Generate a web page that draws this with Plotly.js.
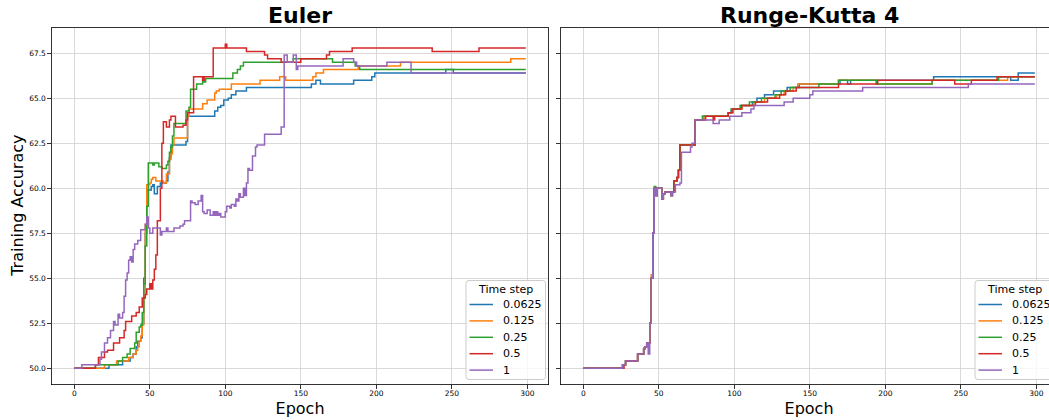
<!DOCTYPE html>
<html>
<head>
<meta charset="utf-8">
<script src="https://cdn.plot.ly/plotly-3.0.1.min.js"></script>
<style>
html, body { margin: 0; padding: 0; overflow: hidden; background: #fff; }
#chart { width: 1070px; height: 420px; }
</style>
</head>
<body>
<div id="chart"></div>
<script>
// ---------------- DATA (epoch, training accuracy) breakpoints ----------------
const timeSteps = ['0.0625', '0.125', '0.25', '0.5', '1'];
const legendTitle = 'Time step';
const panelTitles = ['Euler', 'Runge-Kutta 4'];
const xTicks = [0, 50, 100, 150, 200, 250, 300];
const yTicks = [50.0, 52.5, 55.0, 57.5, 60.0, 62.5, 65.0, 67.5];

const euler_0625 = [[0,50],[23,50.2],[32,50.4],[37,50.6],[39,50.8],[41,51.2],[42,51.5],[44,51.7],[45,52.5],[46,55.0],[47,57.5],[48,59.9],[51,60.1],[52,60.2],[53,59.7],[55,60.1],[57,60.3],[61,60.4],[62,60.9],[63,61.7],[64,62.4],[74,62.6],[75,64.0],[93,64.3],[95,64.5],[97,64.6],[99,64.9],[102,65.0],[104,65.2],[107,65.4],[114,65.6],[157,65.8],[160,66.0],[163,65.8],[185,66.0],[197,66.2],[199,66.4],[246,66.6],[251,66.4],[299,66.4]];
const euler_125 = [[0,50],[20,50.2],[28,50.4],[36,50.6],[39,50.8],[41,51.0],[42,51.2],[43,51.5],[44,51.8],[45,52.4],[46,54.0],[47,58.0],[48,60.2],[50,60.3],[51,60.5],[52,60.6],[54,60.4],[59,60.3],[61,60.8],[63,61.6],[64,61.9],[65,62.4],[66,62.8],[75,64.0],[76,64.4],[85,64.7],[88,64.9],[93,65.3],[94,65.4],[96,65.5],[104,65.8],[123,66.0],[136,66.2],[140,66.0],[158,66.2],[160,66.4],[165,66.6],[188,66.8],[216,67.0],[289,67.2],[299,67.2]];
const euler_25 = [[0,50],[14,50.2],[29,50.4],[32,50.6],[35,50.8],[37,51.1],[40,51.4],[41,52.0],[43,52.3],[44,52.4],[45,53.1],[46,54.7],[47,56.8],[48,59.0],[49,61.4],[52,61.3],[53,61.4],[56,61.2],[58,61.1],[61,61.3],[62,61.5],[63,62.0],[64,62.3],[65,62.9],[66,63.6],[74,64.3],[76,64.5],[77,65.5],[81,65.8],[85,66.1],[86,65.9],[87,66.1],[105,66.4],[108,66.6],[110,66.8],[112,67.0],[145,67.2],[171,67.0],[186,66.8],[189,66.6],[299,66.6]];
const euler_5 = [[0,50],[14,50.2],[16,50.6],[20,50.9],[22,51.0],[26,51.4],[30,51.7],[33,52.1],[34,52.6],[38,52.9],[41,53.1],[43,53.4],[45,53.9],[47,54.1],[48,54.4],[50,54.7],[51,54.4],[52,54.9],[53,55.5],[54,56.3],[55,58.2],[57,60.0],[58,62.5],[59,63.7],[61,63.4],[63,63.8],[64,64.0],[67,63.4],[72,63.5],[74,63.8],[75,64.2],[79,66.2],[85,66.0],[86,66.2],[92,67.8],[100,68.0],[101,67.8],[114,67.6],[126,67.4],[128,67.2],[137,67.0],[150,67.2],[167,67.4],[169,67.6],[184,67.8],[237,67.6],[268,67.8],[299,67.8]];
const euler_1 = [[0,50],[5,50.2],[17,50.5],[18,50.9],[20,51.4],[22,51.7],[24,52.1],[26,52.6],[27,52.4],[29,53.0],[30,52.8],[32,53.1],[33,54.0],[34,54.9],[35,55.3],[36,56.0],[37,56.2],[38,55.9],[39,56.6],[40,56.9],[42,57.1],[44,57.7],[47,58.0],[48,58.4],[49,57.8],[50,57.5],[52,57.8],[57,57.4],[58,57.6],[61,57.8],[62,57.6],[66,57.8],[70,57.9],[72,58.0],[73,58.2],[77,59.3],[78,59.2],[80,59.1],[82,59.3],[84,59.6],[85,58.7],[86,58.6],[88,58.8],[90,58.5],[92,58.7],[93,58.5],[94,58.7],[95,58.5],[96,58.6],[97,58.4],[100,58.7],[101,59.0],[103,58.9],[104,59.1],[106,59.0],[107,59.4],[108,59.3],[109,59.7],[110,59.5],[112,60.0],[113,59.6],[114,60.3],[115,61.1],[116,61.0],[118,61.8],[120,62.3],[121,62.4],[126,63.0],[137,63.4],[139,67.4],[141,67.0],[145,67.4],[147,66.6],[148,66.8],[178,67.2],[185,67.0],[187,66.8],[207,67.0],[223,66.4],[299,66.4]];

const rk4_0625 = [[0,50],[26,50.2],[28,50.4],[36,50.8],[40,51.1],[41,51.2],[42,51.4],[44,52.5],[45,55.0],[46,57.5],[47,60.0],[48,59.6],[49,60.0],[52,59.4],[53,59.7],[54,59.8],[58,59.6],[59,59.8],[60,60.4],[62,60.6],[63,61.0],[64,62.4],[74,63.8],[79,64.0],[96,64.2],[98,64.4],[104,64.6],[112,64.8],[115,65.0],[120,65.2],[126,65.4],[135,65.6],[143,65.8],[170,66.0],[175,65.8],[177,66.0],[232,66.2],[283,66.0],[288,66.4],[299,66.4]];
const rk4_125 = [[0,50],[26,50.2],[28,50.4],[36,50.8],[40,51.1],[41,51.2],[42,51.4],[44,52.5],[45,55.2],[46,57.5],[47,60.0],[48,59.6],[49,60.0],[52,59.4],[53,59.7],[54,59.8],[58,59.6],[59,59.8],[60,60.4],[62,60.6],[63,61.0],[64,62.4],[74,63.8],[80,64.0],[96,64.2],[99,64.4],[105,64.6],[113,64.8],[120,65.0],[128,65.2],[133,65.4],[139,65.6],[142,65.8],[169,66.0],[194,65.8],[231,66.0],[281,66.2],[299,66.2]];
const rk4_25 = [[0,50],[26,50.2],[28,50.4],[36,50.8],[40,51.1],[41,51.2],[42,51.4],[44,52.5],[45,55.0],[46,57.5],[47,60.1],[48,59.6],[49,60.0],[52,59.4],[53,59.7],[54,59.8],[58,59.6],[59,59.8],[60,60.4],[62,60.6],[63,61.0],[64,62.4],[74,63.8],[79,64.0],[96,64.2],[98,64.4],[104,64.6],[110,64.8],[118,65.0],[127,65.2],[131,65.4],[137,65.6],[156,65.8],[169,66.0],[194,65.8],[231,66.0],[275,66.2],[299,66.2]];
const rk4_5 = [[0,50],[27,50.2],[28,50.4],[36,50.8],[40,51.1],[41,51.2],[42,51.4],[44,52.5],[45,55.0],[46,57.5],[47,60.0],[48,59.6],[49,60.0],[52,59.4],[53,59.7],[54,59.8],[58,59.6],[59,59.8],[60,60.4],[62,60.6],[63,61.0],[64,62.4],[74,63.8],[81,64.0],[86,63.8],[87,64.0],[96,64.2],[99,64.4],[105,64.6],[114,64.8],[122,65.0],[130,65.2],[134,65.4],[141,65.6],[169,65.8],[195,66.0],[246,65.8],[257,66.0],[274,66.2],[299,66.2]];
const rk4_1 = [[0,50],[26,50.2],[28,50.4],[36,50.8],[40,51.1],[41,51.2],[42,51.4],[43,50.8],[44,52.5],[45,55.0],[46,57.5],[47,60.0],[48,59.6],[49,60.0],[52,59.4],[53,59.7],[54,59.8],[58,59.6],[59,59.8],[61,60.2],[64,60.3],[65,62.0],[71,62.3],[72,62.5],[74,63.8],[86,63.6],[90,63.8],[97,64.0],[105,64.2],[111,64.4],[113,64.6],[133,64.8],[139,65.0],[150,65.2],[152,65.4],[185,65.6],[255,65.8],[299,65.8]];

// ---------------- STYLE / LAYOUT ----------------
const colors = ['#1f77b4', '#ff7f0e', '#2ca02c', '#d62728', '#9467bd'];
const FONT = 'DejaVu Sans, Liberation Sans, sans-serif';
const W = 1070, H = 420;
const fx = p => p / W;           // pixel -> paper x
const fy = p => 1 - p / H;       // pixel -> paper y (from top)

const panels = [
  { series: [euler_0625, euler_125, euler_25, euler_5, euler_1], xa: 'x', ya: 'y', dx: 0 },
  { series: [rk4_0625, rk4_125, rk4_25, rk4_5, rk4_1], xa: 'x2', ya: 'y2', dx: 509 }
];

const traces = [];
panels.forEach(p => {
  p.series.forEach((s, i) => {
    traces.push({
      type: 'scatter', mode: 'lines',
      x: s.map(d => d[0]), y: s.map(d => d[1]),
      name: timeSteps[i],
      xaxis: p.xa, yaxis: p.ya, showlegend: false,
      line: { color: colors[i], width: 1.5, shape: 'hv' },
      hoverinfo: 'skip'
    });
  });
});

const xDom1 = [fx(51.7), fx(548.4)];
const xDom2 = [fx(560.7), fx(1057.4)];
const yDom = [fy(384.5), fy(28.1)];

const axisCommon = {
  showline: true, mirror: true, linecolor: '#000', linewidth: 0.8,
  ticks: 'outside', ticklen: 3.5, tickwidth: 0.8, tickcolor: '#000',
  showgrid: true, gridcolor: '#cfcfcf', gridwidth: 0.8, zeroline: false,
  tickfont: { family: FONT, size: 7.5, color: '#000' }
};
const xCommon = Object.assign({}, axisCommon, {
  range: [-14.95, 313.95], tickmode: 'array', tickvals: xTicks,
  ticktext: xTicks.map(String), ticklabelstandoff: -2,
  title: { text: 'Epoch', font: { family: FONT, size: 16, color: '#000' }, standoff: 5 }
});

// ---- legends drawn in paper space (matplotlib-style boxes) ----
const shapes = [];
const annotations = [];
function roundedRect(x0, y0, x1, y1, r) {
  const X = v => fx(v), Y = v => fy(v);
  return 'M' + X(x0 + r) + ',' + Y(y0) +
    ' L' + X(x1 - r) + ',' + Y(y0) + ' Q' + X(x1) + ',' + Y(y0) + ' ' + X(x1) + ',' + Y(y0 + r) +
    ' L' + X(x1) + ',' + Y(y1 - r) + ' Q' + X(x1) + ',' + Y(y1) + ' ' + X(x1 - r) + ',' + Y(y1) +
    ' L' + X(x0 + r) + ',' + Y(y1) + ' Q' + X(x0) + ',' + Y(y1) + ' ' + X(x0) + ',' + Y(y1 - r) +
    ' L' + X(x0) + ',' + Y(y0 + r) + ' Q' + X(x0) + ',' + Y(y0) + ' ' + X(x0 + r) + ',' + Y(y0) + ' Z';
}
panels.forEach(p => {
  const bx0 = 466 + p.dx, bx1 = 545.5 + p.dx, by0 = 280.5, by1 = 379.5;
  shapes.push({ type: 'path', xref: 'paper', yref: 'paper', path: roundedRect(bx0, by0, bx1, by1, 3),
    fillcolor: 'rgba(255,255,255,0.8)', line: { color: '#cccccc', width: 1 }, layer: 'above' });
  annotations.push({ text: legendTitle, xref: 'paper', yref: 'paper', x: fx((bx0 + bx1) / 2), y: fy(289),
    xanchor: 'center', yanchor: 'middle', showarrow: false, font: { family: FONT, size: 11, color: '#000' } });
  timeSteps.forEach((ts, i) => {
    const yy = 304.5 + i * 16.4;
    shapes.push({ type: 'line', xref: 'paper', yref: 'paper', x0: fx(469.5 + p.dx), x1: fx(493 + p.dx),
      y0: fy(yy), y1: fy(yy), line: { color: colors[i], width: 1.5 }, layer: 'above' });
    annotations.push({ text: ts, xref: 'paper', yref: 'paper', x: fx(501 + p.dx), y: fy(yy),
      xanchor: 'left', yanchor: 'middle', showarrow: false, font: { family: FONT, size: 11, color: '#000' } });
  });
});

// panel titles and y label
annotations.push(
  { text: panelTitles[0], xref: 'paper', yref: 'paper', x: (xDom1[0] + xDom1[1]) / 2, y: fy(16),
    xanchor: 'center', yanchor: 'middle', showarrow: false,
    font: { family: FONT, size: 22, color: '#000', weight: 'bold' } },
  { text: panelTitles[1], xref: 'paper', yref: 'paper', x: (xDom2[0] + xDom2[1]) / 2, y: fy(16),
    xanchor: 'center', yanchor: 'middle', showarrow: false,
    font: { family: FONT, size: 22, color: '#000', weight: 'bold' } },
  { text: 'Training Accuracy', xref: 'paper', yref: 'paper', x: fx(17.5), y: (yDom[0] + yDom[1]) / 2,
    xanchor: 'center', yanchor: 'middle', textangle: -90, showarrow: false,
    font: { family: FONT, size: 16, color: '#000' } }
);

const layout = {
  width: W, height: H,
  margin: { l: 0, r: 0, t: 0, b: 0, pad: 0 },
  paper_bgcolor: '#fff', plot_bgcolor: '#fff',
  font: { family: FONT, color: '#000' },
  showlegend: false,
  xaxis: Object.assign({}, xCommon, { domain: xDom1, anchor: 'y' }),
  xaxis2: Object.assign({}, xCommon, { domain: xDom2, anchor: 'y2' }),
  yaxis: Object.assign({}, axisCommon, {
    domain: yDom, anchor: 'x', range: [49.1, 68.9], tickmode: 'array', tickvals: yTicks,
    ticktext: yTicks.map(v => v.toFixed(1))
  }),
  yaxis2: Object.assign({}, axisCommon, {
    domain: yDom, anchor: 'x2', matches: 'y', range: [49.1, 68.9], tickmode: 'array', tickvals: yTicks,
    showticklabels: false
  }),
  shapes: shapes,
  annotations: annotations
};

Plotly.newPlot('chart', traces, layout, { staticPlot: true, displayModeBar: false });
</script>
</body>
</html>
